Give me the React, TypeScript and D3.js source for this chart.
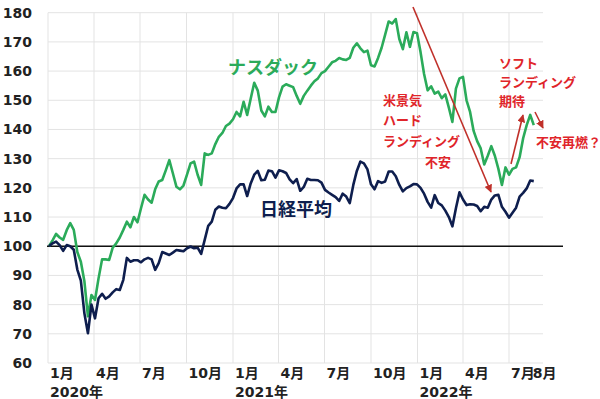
import React from "react";
import * as d3 from "d3";

// Weekly index values (start of 2020 = 100), first week ending 2020-01-03
const seriesStart = "2020-01-03";
const nasdaqValues = [
  100, 102, 104.2, 103, 102.2, 105.5, 107.9, 105.6, 98, 94.7,
  88, 76, 83.3, 81.6, 89, 95.5, 95.5, 95.3, 99.5, 101,
  103, 105.6, 108.4, 106.5, 110, 108.2, 113, 117.6, 116, 114.9,
  119.5, 122.2, 122.7, 126, 129.5, 125, 120.4, 119.5, 120.8, 124.5,
  128.4, 129, 124.5, 121, 131.8, 131.3, 131.8, 135, 137.5, 138.8,
  141.2, 142, 143.5, 146, 144.5, 149.5, 145, 150.5, 156, 153.3,
  146.5, 144.5, 147.8, 146, 146, 151, 154.7, 155.5, 155, 154.5,
  151.5, 148.8, 151.5, 153.3, 155, 156.5, 157.5, 159.3, 160, 161.5,
  163, 163.5, 164.5, 164, 163.8, 164.5, 168, 169.5, 167.8, 166.5,
  167, 162, 161.6, 164.5, 168, 172.5, 177, 176.3, 177.8, 171,
  167.5, 173.3, 168.3, 173.4, 173, 166.5, 159, 153.4, 154.8, 152.3,
  153, 150.7, 152, 147.5, 142.6, 154, 157.5, 158, 150, 146,
  139.5, 136, 133.5, 128, 131, 134.3, 131, 126.5, 121, 127,
  124.5, 126.5, 127, 130.5, 137, 141.5, 145, 141.5,
];
const nikkeiValues = [
  100, 101, 101.6, 100.4, 98.4, 100.4, 100, 98.8, 92, 88.2,
  77, 70.2, 80, 75.3, 82.2, 83.7, 82, 82.8, 84.2, 85.3,
  85, 88.5, 96, 94.7, 95.2, 95.2, 94.5, 95.5, 96, 95.5,
  91.9, 94.2, 98, 97.5, 97, 97.8, 98.7, 98.5, 98.3, 99.3,
  99.9, 99.3, 99.5, 97.4, 102.2, 107, 108.4, 112.5, 113.6, 113.2,
  113, 114.5, 116.5, 119.8, 121.2, 121.2, 117.2, 121.5, 124.5, 125.8,
  122.6, 122.8, 125.9, 125.7, 123.5, 126, 125.7, 125.1, 122.9, 121.6,
  123, 119, 120.3, 123.1, 122.7, 122.7, 122.6, 121.8, 119.3, 118.4,
  117.6, 116.8, 115.5, 118, 117, 114.8, 121, 125.8, 129, 128.4,
  126.3, 121.2, 119.5, 122.3, 121.7, 122.2, 125.6, 125.6, 124, 121,
  118.8, 119.9, 120.5, 121.3, 121.2, 120, 118, 115.2, 113.2, 117.5,
  114.8, 114, 112.2, 110, 106.8, 113, 118.5, 116, 114.1, 114.4,
  114.3, 113.8, 112, 113.5, 113.2, 116, 117.4, 117.6, 113.5, 111.8,
  109.8, 111.5, 113.2, 117, 118.3, 119.8, 122.5, 122.3,
];

const yTicks = [60, 70, 80, 90, 100, 110, 120, 130, 140, 150, 160, 170, 180];
const monthTicks = [
  { date: "2020-01-01", label: "1月" },
  { date: "2020-04-01", label: "4月" },
  { date: "2020-07-01", label: "7月" },
  { date: "2020-10-01", label: "10月" },
  { date: "2021-01-01", label: "1月" },
  { date: "2021-04-01", label: "4月" },
  { date: "2021-07-01", label: "7月" },
  { date: "2021-10-01", label: "10月" },
  { date: "2022-01-01", label: "1月" },
  { date: "2022-04-01", label: "4月" },
  { date: "2022-07-01", label: "7月" },
  { date: "2022-08-01", label: "8月" },
];
const yearTicks = [
  { date: "2020-01-01", label: "2020年" },
  { date: "2021-01-01", label: "2021年" },
  { date: "2022-01-01", label: "2022年" },
];
const gridDates = [
  "2020-01-01", "2020-04-01", "2020-07-01", "2020-10-01",
  "2021-01-01", "2021-04-01", "2021-07-01", "2021-10-01",
  "2022-01-01", "2022-04-01", "2022-07-01",
];

const parse = d3.timeParse("%Y-%m-%d");
const W = 600;
const H = 399;
const FONT = "'DejaVu Sans', 'Noto Sans CJK JP', sans-serif";
const GREEN = "#2bab5a";
const NAVY = "#0e1e4e";
const RED = "#e0252a";
const ARROW = "#c0302a";

export default function App() {
  const x = d3
    .scaleTime()
    .domain([parse("2020-01-01")!, parse("2022-07-01")!])
    .range([48, 509]);
  const y = d3.scaleLinear().domain([60, 180]).range([363, 12.7]);
  const plotRight = 543;

  const start = parse(seriesStart)!;
  const toPts = (vals: number[]) =>
    vals.map((v, i) => ({ d: d3.timeDay.offset(start, i * 7), v }));
  const line = d3
    .line<{ d: Date; v: number }>()
    .x((p) => x(p.d))
    .y((p) => y(p.v))
    .curve(d3.curveLinear);

  const nasdaqPath = line(toPts(nasdaqValues)) || "";
  const nikkeiPath = line(toPts(nikkeiValues)) || "";

  const arrows = [
    { x1: 413, y1: 7, x2: 491, y2: 192 },
    { x1: 511, y1: 164, x2: 523, y2: 115 },
    { x1: 535, y1: 112, x2: 543, y2: 128 },
  ];

  return (
    <svg
      width={W}
      height={H}
      style={{ position: "absolute", left: 0, top: 0, background: "#fff" }}
      fontFamily={FONT}
    >
      <defs>
        <marker
          id="ah"
          viewBox="0 0 10 10"
          refX="9"
          refY="5"
          markerWidth="5"
          markerHeight="5"
          orient="auto"
        >
          <path d="M0,0 L10,5 L0,10 z" fill={ARROW} />
        </marker>
      </defs>
      <rect width={W} height={H} fill="#fff" />
      {/* horizontal grid */}
      {yTicks.map((t) => (
        <line
          key={"h" + t}
          x1={48}
          x2={plotRight}
          y1={y(t)}
          y2={y(t)}
          stroke="#e3e3e3"
          strokeWidth={1}
        />
      ))}
      {/* vertical grid */}
      {gridDates.map((g) => (
        <line
          key={"v" + g}
          x1={x(parse(g)!)}
          x2={x(parse(g)!)}
          y1={y(180)}
          y2={y(60)}
          stroke="#e3e3e3"
          strokeWidth={1}
        />
      ))}
      {/* y labels */}
      {yTicks.map((t) => (
        <text
          key={"yl" + t}
          x={32}
          y={y(t)}
          textAnchor="end"
          dominantBaseline="central"
          fontSize={14}
          fontWeight="bold"
          fill="#222"
        >
          {t}
        </text>
      ))}
      {/* x month labels */}
      {monthTicks.map((m, i) => (
        <text
          key={"m" + i}
          x={x(parse(m.date)!) + (m.label === "8月" ? 8 : 2)}
          y={378}
          fontSize={14}
          fontWeight="bold"
          fill="#222"
        >
          {m.label}
        </text>
      ))}
      {yearTicks.map((m) => (
        <text
          key={"yr" + m.label}
          x={x(parse(m.date)!) + 2}
          y={397}
          fontSize={14}
          fontWeight="bold"
          fill="#222"
        >
          {m.label}
        </text>
      ))}
      {/* baseline 100 */}
      <line x1={47} x2={563} y1={y(100)} y2={y(100)} stroke="#111" strokeWidth={1.5} />
      {/* series */}
      <path d={nasdaqPath} fill="none" stroke={GREEN} strokeWidth={2.6} strokeLinejoin="round" />
      <path d={nikkeiPath} fill="none" stroke={NAVY} strokeWidth={2.6} strokeLinejoin="round" />
      {/* series labels */}
      <text x={228} y={67} dominantBaseline="central" fontSize={18} fontWeight="bold" fill={GREEN}>
        ナスダック
      </text>
      <text x={260} y={209} dominantBaseline="central" fontSize={18} fontWeight="bold" fill={NAVY}>
        日経平均
      </text>
      {/* arrows */}
      {arrows.map((a, i) => (
        <line
          key={"a" + i}
          x1={a.x1}
          y1={a.y1}
          x2={a.x2}
          y2={a.y2}
          stroke={ARROW}
          strokeWidth={1.6}
          markerEnd="url(#ah)"
        />
      ))}
      {/* annotations */}
      <g fontSize={13} fontWeight="bold" fill={RED} dominantBaseline="central">
        <text x={383} y={100}>米景気</text>
        <text x={383} y={120}>ハード</text>
        <text x={383} y={141}>ランディング</text>
        <text x={425} y={162}>不安</text>
        <text x={499} y={63}>ソフト</text>
        <text x={499} y={82}>ランディング</text>
        <text x={499} y={101}>期待</text>
        <text x={536} y={142}>不安再燃？</text>
      </g>
    </svg>
  );
}
